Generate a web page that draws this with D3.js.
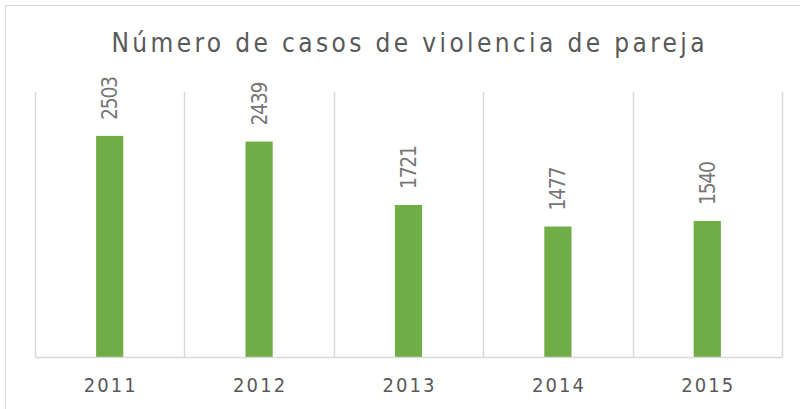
<!DOCTYPE html>
<html>
<head>
<meta charset="utf-8">
<script src="https://cdn.jsdelivr.net/npm/d3@7"></script>
<style>
  html, body { margin: 0; padding: 0; background: #fff; }
  svg { display: block; }
</style>
</head>
<body>
<script>
// data
const years = ["2011", "2012", "2013", "2014", "2015"];
const casos = [2503, 2439, 1721, 1477, 1540];
const chartTitle = "Número de casos de violencia de pareja";

const width = 800, height = 409;
const plot = { left: 35, right: 782, top: 92, bottom: 357 };
const fontFamily = "'DejaVu Sans Condensed', 'DejaVu Sans', sans-serif";

const svg = d3.select("body").append("svg")
    .attr("width", width)
    .attr("height", height);

// outer chart border (runs off the picture on right / bottom)
svg.append("rect")
    .attr("x", 5.5).attr("y", 5.5)
    .attr("width", 830).attr("height", 430)
    .attr("fill", "#fff")
    .attr("stroke", "#d9d9d9")
    .attr("stroke-width", 1);

const x = d3.scaleBand()
    .domain(years)
    .range([plot.left, plot.right])
    .padding(0);

const y = d3.scaleLinear()
    .domain([0, 3000])
    .range([plot.bottom, plot.top]);

// vertical gridlines at category boundaries
const bounds = years.map(d => x(d)).concat([plot.right]);
svg.append("g")
    .selectAll("line")
    .data(bounds)
    .join("line")
    .attr("x1", d => Math.round(d) + 0.5)
    .attr("x2", d => Math.round(d) + 0.5)
    .attr("y1", plot.top)
    .attr("y2", plot.bottom)
    .attr("stroke", "#d9d9d9")
    .attr("stroke-width", 1.5);

// bars
const barW = x.bandwidth() * 0.182;
svg.append("g")
    .selectAll("rect")
    .data(casos)
    .join("rect")
    .attr("x", (d, i) => x(years[i]) + x.bandwidth() / 2 - barW / 2)
    .attr("y", d => y(d))
    .attr("width", barW)
    .attr("height", d => y(0) - y(d))
    .attr("fill", "#70ad47");

// bottom axis
const xAxis = svg.append("g")
    .attr("transform", `translate(0,${plot.bottom})`)
    .call(d3.axisBottom(x).tickSize(0).tickPadding(0));
xAxis.select(".domain")
    .attr("stroke", "#d9d9d9")
    .attr("stroke-width", 1.5);
xAxis.selectAll("text")
    .attr("y", 35)
    .attr("dy", 0)
    .attr("fill", "#595959")
    .attr("font-family", fontFamily)
    .attr("font-size", 20)
    .attr("textLength", 52)
    .attr("lengthAdjust", "spacing");

// value labels, rotated
svg.append("g")
    .selectAll("text")
    .data(casos)
    .join("text")
    .attr("transform", (d, i) => {
        const cx = x(years[i]) + x.bandwidth() / 2;
        return `translate(${cx},${y(d) - 16}) rotate(-90)`;
    })
    .attr("dy", "0.36em")
    .attr("text-anchor", "start")
    .attr("fill", "#767676")
    .attr("font-family", fontFamily)
    .attr("font-size", 21)
    .attr("textLength", 44)
    .attr("lengthAdjust", "spacing")
    .text(d => d);

// title
svg.append("text")
    .attr("x", 408)
    .attr("y", 52)
    .attr("text-anchor", "middle")
    .attr("fill", "#595959")
    .attr("font-family", fontFamily)
    .attr("font-size", 26)
    .attr("textLength", 593)
    .attr("lengthAdjust", "spacing")
    .text(chartTitle);
</script>
</body>
</html>
